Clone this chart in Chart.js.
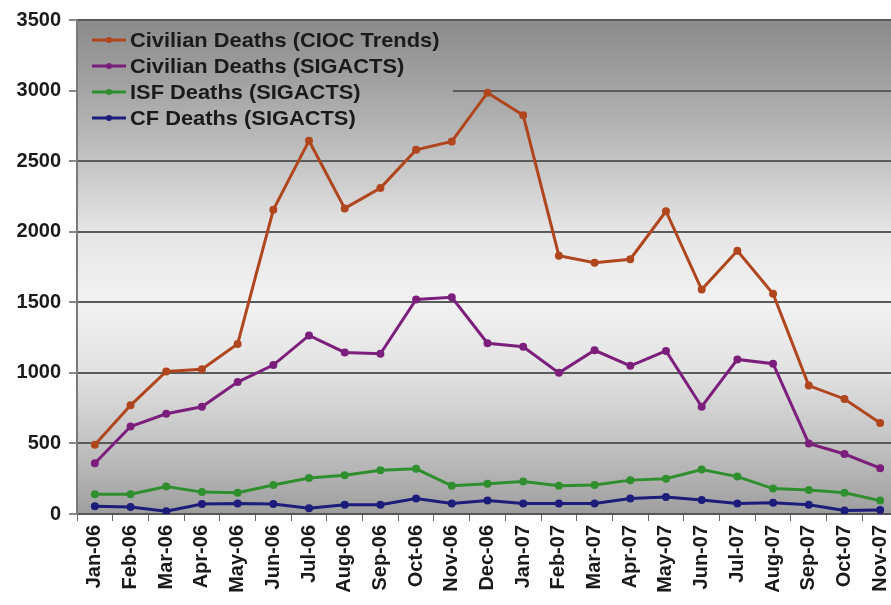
<!DOCTYPE html>
<html>
<head>
<meta charset="utf-8">
<script src="https://cdn.jsdelivr.net/npm/chart.js@4"></script>
<style>
  html, body { margin: 0; padding: 0; background: #fff; overflow: hidden; }
  #wrap { width: 891px; height: 605px; overflow: hidden; }
</style>
</head>
<body>
<div id="wrap"><canvas id="chart" width="910" height="605"></canvas></div>
<script>
    // Monthly deaths, Jan-06 .. Nov-07
    const months = ["Jan-06","Feb-06","Mar-06","Apr-06","May-06","Jun-06","Jul-06","Aug-06","Sep-06","Oct-06","Nov-06","Dec-06",
                    "Jan-07","Feb-07","Mar-07","Apr-07","May-07","Jun-07","Jul-07","Aug-07","Sep-07","Oct-07","Nov-07"];
    const ciocCivilian = [490, 770, 1010, 1025, 1205, 2155, 2645, 2165, 2310, 2580, 2640, 2985, 2825, 1830, 1780, 1805, 2145, 1590, 1865, 1560, 910, 815, 645];
    const sigactsCivilian = [360, 620, 710, 760, 935, 1055, 1265, 1145, 1135, 1520, 1535, 1210, 1185, 1000, 1160, 1050, 1155, 760, 1095, 1065, 500, 425, 325];
    const isfDeaths = [140, 140, 195, 155, 150, 205, 255, 275, 310, 320, 200, 215, 230, 200, 205, 240, 250, 315, 265, 180, 170, 150, 95];
    const cfDeaths = [55, 50, 20, 70, 75, 70, 40, 65, 65, 110, 75, 95, 75, 75, 75, 110, 120, 100, 75, 80, 65, 25, 28];

    const seriesNames = ["Civilian Deaths (CIOC Trends)", "Civilian Deaths (SIGACTS)", "ISF Deaths (SIGACTS)", "CF Deaths (SIGACTS)"];
    const seriesColors = ["#b0461e", "#7c1f7c", "#2f8f2f", "#1c1c7a"];

    const FONT = "'Liberation Sans', Arial, sans-serif";

    function bgGradient(ctx, area) {
      const g = ctx.createLinearGradient(0, area.top, 0, area.bottom);
      g.addColorStop(0.00, "#8a8a8a");
      g.addColorStop(0.15, "#a6a6a6");
      g.addColorStop(0.29, "#c4c4c4");
      g.addColorStop(0.43, "#e6e6e6");
      g.addColorStop(0.57, "#f2f2f2");
      g.addColorStop(0.71, "#e2e2e2");
      g.addColorStop(0.85, "#c4c4c4");
      g.addColorStop(1.00, "#9e9e9e");
      return g;
    }

    // gray plot background + legend box inside the plot area
    const plotBackground = {
      id: "plotBackground",
      beforeDraw(chart) {
        const { ctx, chartArea: a } = chart;
        ctx.save();
        ctx.fillStyle = bgGradient(ctx, a);
        ctx.fillRect(a.left, a.top, a.right - a.left, a.bottom - a.top);
        ctx.restore();
      },
      beforeDatasetsDraw(chart) {
        const { ctx, chartArea: a } = chart;
        ctx.save();
        ctx.fillStyle = bgGradient(ctx, a);
        ctx.fillRect(a.left + 1, a.top + 1, 375, 118);
        ctx.restore();
      },
      afterDraw(chart) {
        const { ctx, chartArea: a } = chart;
        ctx.save();
        chart.data.datasets.forEach((ds, i) => {
          const y = a.top + 20 + i * 26;
          const x0 = a.left + 15;
          ctx.strokeStyle = ds.borderColor;
          ctx.lineWidth = 3;
          ctx.beginPath();
          ctx.moveTo(x0, y);
          ctx.lineTo(x0 + 34, y);
          ctx.stroke();
          ctx.fillStyle = ds.borderColor;
          ctx.beginPath();
          ctx.arc(x0 + 17, y, 3, 0, Math.PI * 2);
          ctx.fill();
          ctx.save();
          ctx.translate(x0 + 38, y + 1);
          ctx.scale(1.04, 1);
          ctx.fillStyle = "#1a1a1a";
          ctx.font = "bold 21px " + FONT;
          ctx.textBaseline = "middle";
          ctx.fillText(ds.label, 0, 0);
          ctx.restore();
        });
        ctx.restore();
      }
    };

    const datasets = [ciocCivilian, sigactsCivilian, isfDeaths, cfDeaths].map((values, i) => ({
      label: seriesNames[i],
      data: values,
      borderColor: seriesColors[i],
      backgroundColor: seriesColors[i],
      borderWidth: 3,
      pointRadius: 2.5,
      pointHoverRadius: 2.5,
      tension: 0,
      fill: false
    }));

    const chart = new Chart(document.getElementById("chart").getContext("2d"), {
      type: "line",
      data: { labels: months, datasets: datasets },
      options: {
        responsive: false,
        animation: false,
        layout: { padding: { top: 17, right: 12, left: 0, bottom: 0 } },
        plugins: { legend: { display: false }, tooltip: { enabled: false } },
        scales: {
          x: {
            offset: true,
            grid: { offset: true, drawOnChartArea: false, drawTicks: true, tickLength: 7, color: "#666" },
            border: { color: "#555", width: 2 },
            ticks: {
              autoSkip: false, minRotation: 90, maxRotation: 90, padding: 4,
              color: "#1a1a1a", font: { family: FONT, size: 20, weight: "bold" }
            },
            afterFit(scale) { scale.height = 91; scale.paddingLeft = 0; scale.paddingRight = 0; }
          },
          y: {
            min: 0, max: 3500,
            ticks: {
              stepSize: 500, padding: 8, color: "#1a1a1a",
              font: { family: FONT, size: 20, weight: "bold" },
              callback: (v) => String(v)
            },
            grid: { color: "#5a5a5a", lineWidth: 2, tickLength: 8, tickColor: "#888", drawTicks: true },
            border: { color: "#7a7a7a", width: 2 },
            afterFit(scale) { scale.width = 77; }
          }
        }
      },
      plugins: [plotBackground]
    });
</script>
</body>
</html>
